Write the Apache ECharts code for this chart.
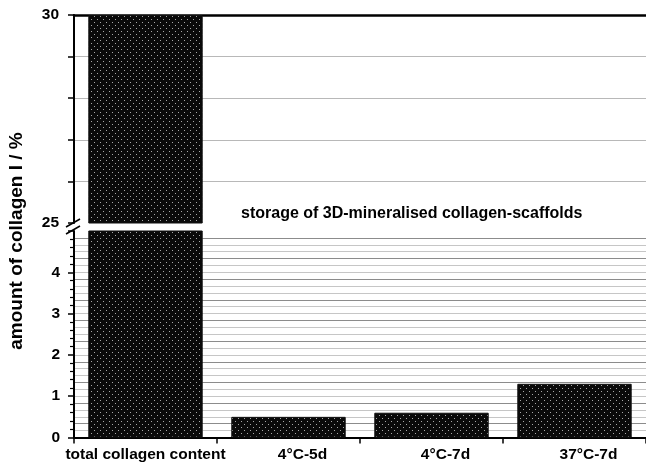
<!DOCTYPE html>
<html>
<head>
<meta charset="utf-8">
<script src="https://cdn.jsdelivr.net/npm/echarts@6/dist/echarts.min.js"></script>
<style>
  html, body { margin: 0; padding: 0; background: #fff; }
  #chart { width: 646px; height: 467px; }
</style>
</head>
<body>
<div id="chart"></div>
<script>
// Collagen I content of the scaffolds and after the storage conditions
const categories = ['total collagen content', '4°C-5d', '4°C-7d', '37°C-7d'];
const collagenAmount = [30, 0.5, 0.6, 1.3];
const upperRange = [25, 30];
const lowerRange = [0, 5];
const upperLabels = [25, 30];
const lowerLabels = [0, 1, 2, 3, 4];
const annotation = 'storage of 3D-mineralised collagen-scaffolds';
const yTitle = 'amount of collagen I / %';

const FONT = '"Liberation Sans", Arial, sans-serif';

// dotted black fill for the bars
function dotPattern() {
  const c = document.createElement('canvas');
  c.width = 6; c.height = 6;
  const g = c.getContext('2d');
  g.fillStyle = '#0a0a0a';
  g.fillRect(0, 0, 6, 6);
  g.fillStyle = '#a8a8a8';
  g.fillRect(1, 1, 1, 1);
  g.fillRect(4, 4, 1, 1);
  return c;
}
const barFill = { image: dotPattern(), repeat: 'repeat' };

// horizontal hatching of the lower panel: six lines per unit, every third darker
const hatchSteps = 30;
const hatchColors = [];
for (let i = 0; i <= hatchSteps; i++) {
  if (i === 0 || i === hatchSteps) hatchColors.push('rgba(0,0,0,0)');
  else hatchColors.push(i % 3 === 2 ? '#8c8c8c' : '#c6c6c6');
}

const upperGridColors = [];
for (let v = upperRange[0]; v <= upperRange[1]; v++) {
  upperGridColors.push(v === upperRange[0] || v === upperRange[1] ? 'rgba(0,0,0,0)' : '#b8b8b8');
}

const xLabelData = categories.map((c, i) => i === 0 ? c : { value: c, textStyle: { padding: [0, 0, 0, 28] } });

const chart = echarts.init(document.getElementById('chart'), null, { renderer: 'canvas' });

const option = {
  animation: false,
  backgroundColor: '#fff',
  grid: [
    { left: 74, width: 576, top: 15, height: 208 },
    { left: 74, width: 576, top: 231, height: 206.5 }
  ],
  xAxis: [
    {
      gridIndex: 0, type: 'category', data: categories, position: 'top',
      axisLine: { show: true, onZero: false, lineStyle: { color: '#000', width: 2.5 } },
      axisTick: { show: false }, axisLabel: { show: false }, splitLine: { show: false }
    },
    {
      gridIndex: 1, type: 'category', data: xLabelData, position: 'bottom',
      axisLine: { show: true, onZero: false, lineStyle: { color: '#000', width: 2 } },
      axisTick: { show: true, length: 6, lineStyle: { color: '#000', width: 1.5 } },
      axisLabel: { interval: 0, color: '#000', fontFamily: FONT, fontWeight: 'bold', fontSize: 15.5, margin: 9 },
      splitLine: { show: false }
    }
  ],
  yAxis: [
    {
      gridIndex: 0, type: 'value', min: upperRange[0], max: upperRange[1], interval: 1,
      axisLine: { show: true, lineStyle: { color: '#000', width: 2 } },
      axisTick: { show: true, length: 6, lineStyle: { color: '#000', width: 1.5 } },
      axisLabel: {
        color: '#000', fontFamily: FONT, fontWeight: 'bold', fontSize: 15.5, margin: 15,
        formatter: v => upperLabels.includes(v) ? String(v) : ''
      },
      splitLine: { show: true, lineStyle: { color: upperGridColors, width: 1.2 } }
    },
    {
      gridIndex: 1, type: 'value', min: lowerRange[0], max: lowerRange[1], interval: 1,
      axisLine: { show: true, lineStyle: { color: '#000', width: 2 } },
      axisTick: { show: true, length: 6, lineStyle: { color: '#000', width: 1.5 } },
      minorTick: { show: true, splitNumber: 5, length: 4, lineStyle: { color: '#000', width: 1.2 } },
      axisLabel: {
        color: '#000', fontFamily: FONT, fontWeight: 'bold', fontSize: 15.5, margin: 14,
        showMaxLabel: false,
        formatter: v => lowerLabels.includes(v) ? String(v) : ''
      },
      splitLine: { show: false }
    },
    {
      gridIndex: 1, type: 'value', min: 0, max: hatchSteps, interval: 1, position: 'right',
      axisLine: { show: false }, axisTick: { show: false }, axisLabel: { show: false },
      splitLine: { show: true, lineStyle: { color: hatchColors, width: 1.2 } }
    }
  ],
  series: [
    {
      type: 'bar', xAxisIndex: 0, yAxisIndex: 0,
      data: collagenAmount.map(v => v > upperRange[0] ? v : null),
      barCategoryGap: '20%',
      itemStyle: { color: barFill, borderColor: '#111', borderWidth: 1 }
    },
    {
      type: 'bar', xAxisIndex: 1, yAxisIndex: 1,
      data: collagenAmount,
      barCategoryGap: '20%',
      itemStyle: { color: barFill, borderColor: '#111', borderWidth: 1 }
    }
  ]
};
chart.setOption(option);

// axis break marks, annotation and y-axis title
const breakTop = chart.convertToPixel({ xAxisIndex: 0, yAxisIndex: 0 }, [0, upperRange[0]])[1];
const breakBottom = chart.convertToPixel({ xAxisIndex: 1, yAxisIndex: 1 }, [0, lowerRange[1]])[1];
const midY = (breakTop + breakBottom) / 2;
const ax = 74;

chart.setOption({
  graphic: [
    { type: 'line', shape: { x1: ax - 8, y1: midY, x2: ax + 6, y2: midY - 8 }, style: { stroke: '#000', lineWidth: 1.5 } },
    { type: 'line', shape: { x1: ax - 8, y1: midY + 7, x2: ax + 6, y2: midY - 1 }, style: { stroke: '#000', lineWidth: 1.5 } },
    {
      type: 'text', x: 241, y: 214,
      style: { text: annotation, font: 'bold 16px ' + FONT, fill: '#000', textAlign: 'left', textVerticalAlign: 'middle' }
    },
    {
      type: 'text', x: 17, y: 241, rotation: Math.PI / 2,
      style: { text: yTitle, font: 'bold 19px ' + FONT, fill: '#000', textAlign: 'center', textVerticalAlign: 'middle' }
    }
  ]
});
</script>
</body>
</html>
